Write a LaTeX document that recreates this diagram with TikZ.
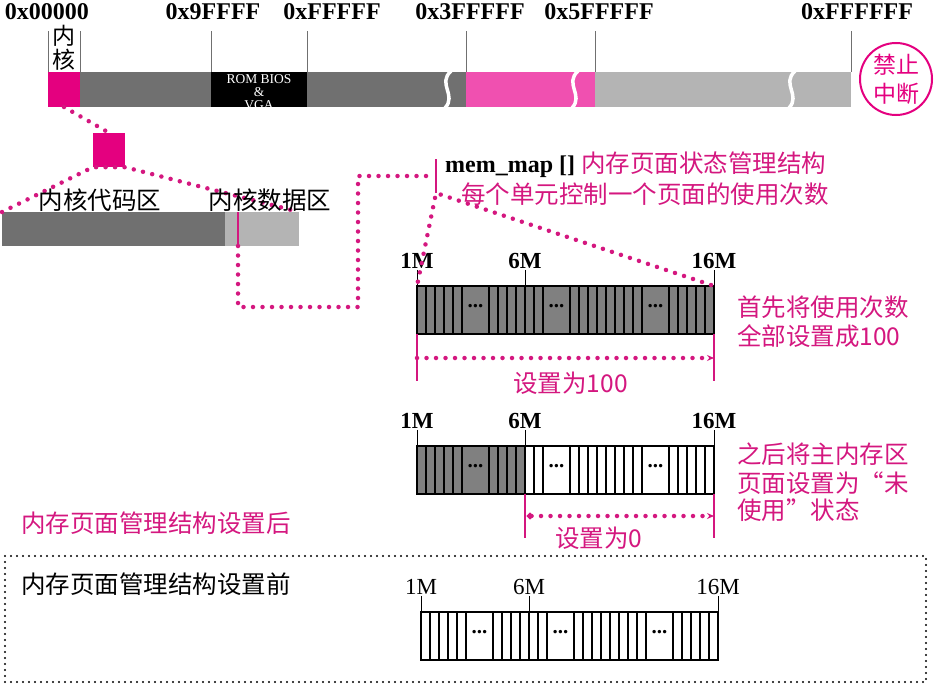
\documentclass[tikz,border=0pt]{standalone}
\usepackage{fontspec}
\setmainfont{Liberation Serif}
\newfontfamily\cjk{Noto Sans CJK SC}
\usetikzlibrary{positioning,arrows.meta}
\definecolor{kpink}{HTML}{E4007F}
\definecolor{spink}{HTML}{F050B0}
\definecolor{tpink}{HTML}{D4177F}
\definecolor{dgray}{HTML}{707070}
\definecolor{lgray}{HTML}{B4B4B4}
\definecolor{agray}{HTML}{808080}
\tikzset{seg/.style={inner sep=0,outer sep=0,minimum height=35pt,anchor=north west},
  hexlbl/.style={inner sep=0,font=\fontsize{24}{24}\selectfont\bfseries},
  mlbl/.style={inner sep=1pt,font=\fontsize{23}{23}\selectfont\bfseries},
  mlblr/.style={inner sep=1pt,font=\fontsize{23}{23}\selectfont},
  cn/.style={inner sep=0,font=\cjk\fontsize{24.5}{24.5}\selectfont},
  cnp/.style={cn,text=tpink},
  arr/.style={inner sep=0,outer sep=0,minimum width=297pt,minimum height=48pt,anchor=north west},
  cell/.style={line width=1.6pt},
  tick/.style={line width=0.9pt},
  pline/.style={draw=tpink,line width=1.6pt},
  pdots/.style={draw=tpink,line width=4.5pt,line cap=round,dash pattern=on 0pt off 9.5pt},
  bdots/.style={line width=2.2pt,line cap=round,dash pattern=on 0pt off 6pt},
  brk/.style={white,line width=3.5pt}}

\begin{document}
\begin{tikzpicture}[x=1pt,y=-1pt]
\useasboundingbox (0,0) rectangle (934,685);

% physical memory bar
\node[seg,fill=kpink,minimum width=32pt] (kern) at (48,72) {};
\node[seg,fill=dgray,minimum width=131pt] (low) at (80,72) {};
\node[seg,fill=black,minimum width=96pt] (bios) at (211,72) {};
\node[seg,fill=dgray,minimum width=159pt] (ext) at (307,72) {};
\node[seg,fill=spink,minimum width=129pt] (buf) at (466,72) {};
\node[seg,fill=lgray,minimum width=256pt] (main) at (595,72) {};
\node[text=white,align=center,inner sep=0,font=\fontsize{13.5}{13}\selectfont] (biosl) at ([yshift=-3pt]bios.center) {ROM BIOS\\\&\\VGA};
\foreach \x in {447,574,791}
  \draw[brk] (\x+4,71) .. controls (\x-10,84) and (\x+10,95) .. (\x-2,108);
\fill[white] (bios.south west) rectangle ++(96,10);

\foreach \n in {kern,low,bios,ext,buf,main}
  \draw[tick,dgray] (\n.north west) -- ++(0,-41);
\draw[tick,dgray] (main.north east) -- ++(0,-41);

\node[hexlbl] (h0) at (47,12) {0x00000};
\node[hexlbl] (h1) at (213,12) {0x9FFFF};
\node[hexlbl] (h2) at (332,12) {0xFFFFF};
\node[hexlbl] (h3) at (470,12) {0x3FFFFF};
\node[hexlbl] (h4) at (599,12) {0x5FFFFF};
\node[hexlbl] (h5) at (857,12) {0xFFFFFF};
\node[cn,font=\cjk\fontsize{23}{23}\selectfont] (nei) at (64,36) {内};
\node[cn,font=\cjk\fontsize{23}{23}\selectfont] (he) at (64,60) {核};

\node[circle,draw=kpink,line width=2pt,minimum size=72pt,inner sep=0,align=center,
  text=kpink,font=\cjk\fontsize{23}{29}\selectfont] (nmi) at (896,79) {禁止\\中断};

% kernel image
\node[fill=kpink,minimum width=32pt,minimum height=34pt,inner sep=0] (ksq) at (109,150) {};
\draw[pdots] (kern.south) -- (ksq.north);
\node[seg,fill=dgray,minimum width=223pt,minimum height=34pt] (kcode) at (2,212) {};
\node[seg,fill=lgray,minimum width=74pt,minimum height=34pt] (kdata) at (225,212) {};
\draw[pdots] (kcode.north west) -- (ksq.south west) -- (ksq.south east) -- (kdata.north east);
\node[cn] (kcodel) at (100,200) {内核代码区};
\node[cn] (kdatal) at (270,200) {内核数据区};

% mem_map
\draw[pline] ([xshift=13pt]kdata.north west) -- ([xshift=13pt]kdata.south west) coordinate (dmk);
\coordinate (memtop) at (436,159);
\coordinate (memmid) at (436,176);
\coordinate (membot) at (436,193);
\coordinate (jog) at (358,307);
\draw[pline] (memtop) -- (membot);
\draw[pdots,shorten >=5pt] (dmk) |- (jog) |- (memmid);
\node[anchor=west,inner sep=0,font=\fontsize{24}{24}\selectfont\bfseries] (memlbl) at (445,165)
  {mem\_map [] {\cjk\mdseries\fontsize{24.5}{24.5}\selectfont\color{tpink}内存页面状态管理结构}};
\node[cnp,anchor=west] (memlbl2) at (461,194) {每个单元控制一个页面的使用次数};

% page arrays
\node[arr,fill=agray] (arr1) at (417,286) {};
\node[arr,fill=white] (arr2) at (417,446) {};
\fill[agray] (arr2.north west) rectangle ([xshift=108pt]arr2.south west);
\node[arr,fill=white] (arr3) at (421,612) {};
\foreach \a in {arr1,arr2,arr3} {
  \foreach \b in {1,2,3,4,5,8,9,10,11,12,13,14,17,18,19,20,21,22,23,24,25,28,29,30,31,32}
    \draw[cell] ([xshift=\b*9pt]\a.north west) -- ([xshift=\b*9pt]\a.south west);
  \draw[cell,line width=2pt] (\a.north west) rectangle (\a.south east);
  \foreach \p/\i in {58.5/1,139.5/2,238.5/3}
    \node[inner sep=0,font=\fontsize{21}{21}\selectfont\bfseries] (\a-d\i) at ([xshift=\p pt,yshift=4pt]\a.west) {...};
}
\foreach \a/\f in {arr1/mlbl,arr2/mlbl,arr3/mlblr} {
  \node[\f] (\a-l1) at ([yshift=25pt]\a.north west) {1M};
  \node[\f] (\a-l6) at ([xshift=108pt,yshift=25pt]\a.north west) {6M};
  \node[\f] (\a-l16) at ([yshift=25pt]\a.north east) {16M};
  \draw[tick] (\a-l1) -- (\a.north west);
  \draw[tick] (\a-l6) -- ([xshift=108pt]\a.north west);
  \draw[tick] (\a-l16) -- (\a.north east);
}
\draw[pdots,shorten <=5pt] (membot) -- (arr1.north west);
\draw[pdots,shorten <=5pt] (membot) -- (arr1.north east);

% set to 100
\draw[pline] (arr1.south west) -- ++(0,47);
\draw[pline] (arr1.south east) -- ++(0,47);
\draw[pdots,-{Stealth[length=7pt,width=6pt]}] ([yshift=-24pt]arr1.south west) -- ([yshift=-24pt]arr1.south east);
\node[cnp] (set100) at ([xshift=5pt,yshift=-49pt]arr1.south) {设置为100};
\node[cnp,anchor=west] (note1a) at (737,307) {首先将使用次数};
\node[cnp,anchor=west] (note1b) at (737,336) {全部设置成100};

% set to 0
\draw[pline] ([xshift=108pt]arr2.south west) -- ++(0,44);
\draw[pline] (arr2.south east) -- ++(0,44);
\draw[pdots,{Circle[length=6pt]}-{Stealth[length=7pt,width=6pt]}] ([xshift=110pt,yshift=-22pt]arr2.south west) -- ([yshift=-22pt]arr2.south east);
\node[cnp] (set0) at ([xshift=182pt,yshift=-44pt]arr2.south west) {设置为0};
\node[cnp,anchor=west] (note2a) at (737,454) {之后将主内存区};
\node[cnp,anchor=west] (note2b) at (737,483) {页面设置为“未};
\node[cnp,anchor=west] (note2c) at (737,510) {使用”状态};

\node[cnp,anchor=west] (after) at (21,523) {内存页面管理结构设置后};
\draw[bdots] (5,556) rectangle (926,682);
\node[cn,anchor=west] (before) at (21,584) {内存页面管理结构设置前};
\end{tikzpicture}
\end{document}
